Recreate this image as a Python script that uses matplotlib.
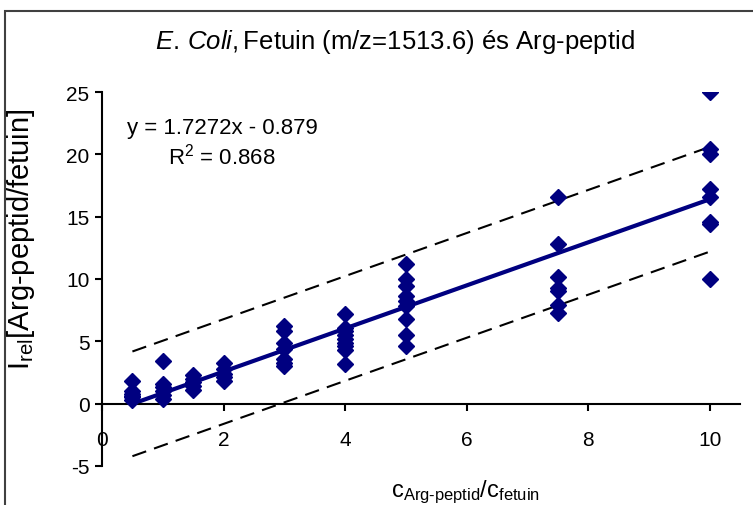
import numpy as np
import matplotlib
matplotlib.use("Agg")
import matplotlib.pyplot as plt
from matplotlib.patches import Rectangle

plt.rcParams['font.family'] = ['Liberation Sans', 'DejaVu Sans']
plt.rcParams['mathtext.fontset'] = 'custom'
plt.rcParams['mathtext.rm'] = 'Liberation Sans'
plt.rcParams['mathtext.it'] = 'Liberation Sans:italic'
plt.rcParams['axes.unicode_minus'] = False

# measured points, grouped by concentration ratio
ratios = [0.5, 1, 1.5, 2, 3, 4, 5, 7.5, 10]
irel = [
    [1.8, 1.0, 0.8, 0.6, 0.5, 0.3],
    [3.4, 1.6, 1.3, 1.0, 0.7, 0.4],
    [2.3, 2.0, 1.7, 1.4, 1.1],
    [3.3, 2.8, 2.4, 2.1, 1.8],
    [6.2, 5.8, 4.9, 4.4, 3.6, 3.3, 3.0],
    [7.2, 6.1, 5.8, 5.5, 5.2, 4.9, 4.6, 4.3, 3.2],
    [11.2, 10.0, 9.4, 8.6, 8.2, 7.8, 6.8, 5.5, 4.6],
    [16.6, 12.8, 10.2, 9.3, 9.0, 7.9, 7.3],
    [25.0, 20.4, 20.0, 17.2, 16.6, 14.6, 14.4, 10.0],
]

slope = 1.7272
intercept = -0.879
r2 = 0.868
band = 4.2
line_x = [0.5, 10]

x_ticks = [0, 2, 4, 6, 8, 10]
y_ticks = [-5, 0, 5, 10, 15, 20, 25]

fig = plt.figure(figsize=(7.53, 5.06), dpi=100)
ax = fig.add_axes([0.1355, 0.0771, 0.8473, 0.7391])

xs = np.concatenate([[r] * len(v) for r, v in zip(ratios, irel)])
ys = np.concatenate(irel)
ax.plot(xs, ys, linestyle='none', marker='D', markersize=8,
        color='#000080', zorder=3)

lx = np.array(line_x)
fit = slope * lx + intercept
ax.plot(lx, fit, color='#000080', lw=3, zorder=2)
ax.plot(lx, fit + band, color='black', lw=1.5, dashes=(7, 4))
ax.plot(lx, fit - band, color='black', lw=1.5, dashes=(7, 4))

ax.set_xlim(0, 10.5)
ax.set_ylim(-5, 25)
ax.set_xticks(x_ticks)
ax.set_yticks(y_ticks)
ax.spines['top'].set_visible(False)
ax.spines['right'].set_visible(False)
ax.spines['bottom'].set_position(('data', 0))
for s in ('left', 'bottom'):
    ax.spines[s].set_linewidth(1.5)
ax.tick_params(axis='both', direction='out', length=5, width=1.5,
               labelsize=15)
ax.tick_params(axis='x', pad=14)
ax.tick_params(axis='y', pad=4)

ax.set_ylabel(r'I$_{\rm rel}$[Arg-peptid/fetuin]', fontsize=21)
ax.yaxis.set_label_coords(-0.102, 0.61)
ax.set_xlabel(r'c$_{\text{Arg-peptid}}$/c$_{\rm fetuin}$', fontsize=17)
ax.xaxis.set_label_coords(0.57, -0.03)

fig.text(0.525, 0.917, r'$\it{E.\,Coli,}$Fetuin (m/z=1513.6) és Arg-peptid',
         ha='center', va='center', fontsize=18.5)
fig.text(0.295, 0.747, 'y = 1.7272x - 0.879',
         ha='center', va='center', fontsize=16)
fig.text(0.295, 0.690, 'R$^2$ = %.3f' % r2,
         ha='center', va='center', fontsize=16)

fig.patches.append(Rectangle((0.0066, -0.2), 1.2, 1.176, transform=fig.transFigure,
                             fill=False, edgecolor='#404040', lw=1.5))

fig.savefig('out.png', dpi=100)
